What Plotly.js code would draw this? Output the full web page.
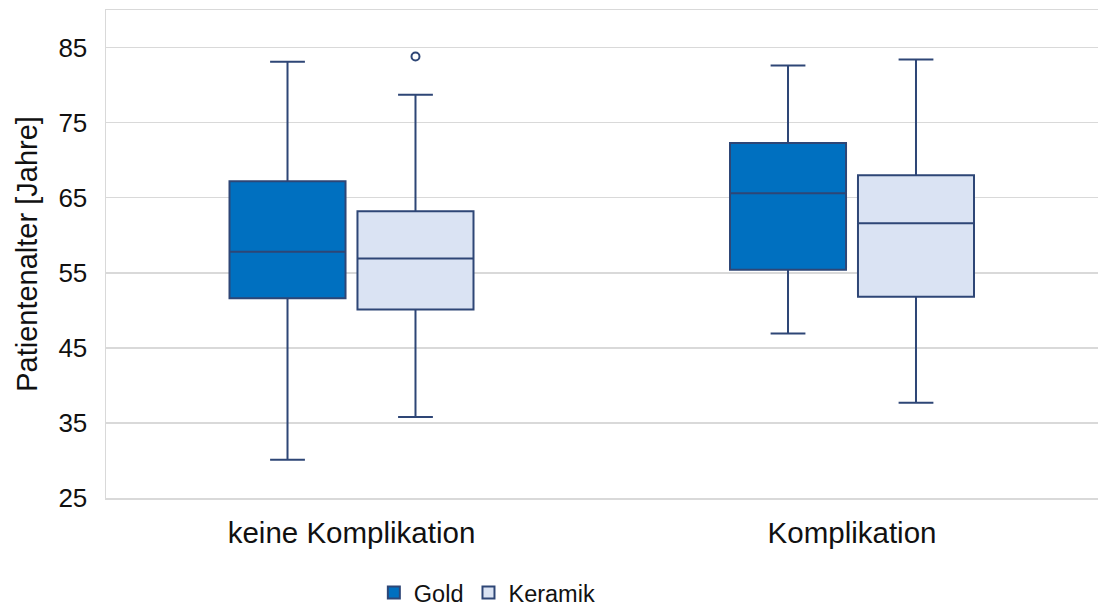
<!DOCTYPE html>
<html>
<head>
<meta charset="utf-8">
<script src="https://cdn.plot.ly/plotly-3.0.1.min.js"></script>
<style>
  html, body { margin: 0; padding: 0; background: #fff; }
  #chart { width: 1098px; height: 606px; }
</style>
</head>
<body>
<div id="chart"></div>
<script>
// Gruppen auf der x-Achse
const categories = ['keine Komplikation', 'Komplikation'];

// Goldlegierung: Kennwerte je Gruppe (Jahre)
const goldLower  = [30.1, 46.9];
const goldQ1     = [51.6, 55.4];
const goldMedian = [57.8, 65.6];
const goldQ3     = [67.2, 72.3];
const goldUpper  = [83.1, 82.6];

// Keramik: Kennwerte je Gruppe (Jahre)
const keramikLower    = [35.8, 37.7];
const keramikQ1       = [50.1, 51.8];
const keramikMedian   = [56.9, 61.6];
const keramikQ3       = [63.2, 68.0];
const keramikUpper    = [78.7, 83.4];
const keramikOutliers = [[83.8], []];

const yTicks = [25, 35, 45, 55, 65, 75, 85];

const lineColor = '#2E4676';
const textColor = '#111111';
const gridColor = '#d9d9d9';
const fontFamily = 'Liberation Sans, Arial, sans-serif';

const common = {
  type: 'box',
  x: categories,
  whiskerwidth: 0.3,
  line: { color: lineColor, width: 2 },
  hoverinfo: 'skip'
};

const traces = [
  Object.assign({}, common, {
    name: 'Gold',
    lowerfence: goldLower,
    q1: goldQ1,
    median: goldMedian,
    q3: goldQ3,
    upperfence: goldUpper,
    fillcolor: '#0070C0',
    boxpoints: false
  }),
  Object.assign({}, common, {
    name: 'Keramik',
    y: keramikOutliers,
    lowerfence: keramikLower,
    q1: keramikQ1,
    median: keramikMedian,
    q3: keramikQ3,
    upperfence: keramikUpper,
    fillcolor: '#DAE3F3',
    boxpoints: 'outliers',
    jitter: 0,
    pointpos: 0,
    marker: {
      symbol: 'circle-open',
      size: 8,
      color: lineColor,
      line: { width: 2 }
    }
  })
];

const layout = {
  width: 1098,
  height: 606,
  margin: { l: 106, r: 0, t: 10, b: 108, autoexpand: false },
  paper_bgcolor: '#ffffff',
  plot_bgcolor: '#ffffff',
  font: { family: fontFamily, color: textColor },
  boxmode: 'group',
  boxgap: 0.4886,
  boxgroupgap: 0.0934,
  showlegend: true,
  legend: {
    orientation: 'h',
    x: 0.270,
    xanchor: 'left',
    y: -0.194,
    yanchor: 'middle',
    font: { size: 23.5, family: fontFamily, color: textColor },
    bgcolor: 'rgba(0,0,0,0)'
  },
  xaxis: {
    type: 'category',
    range: [-0.4905, 1.4915],
    showgrid: false,
    zeroline: false,
    showline: true,
    mirror: true,
    linecolor: gridColor,
    linewidth: 1.5,
    ticks: '',
    tickfont: { size: 29.5, family: fontFamily, color: textColor },
    ticklabelstandoff: 8,
    fixedrange: true
  },
  yaxis: {
    range: [25, 90],
    tickvals: yTicks,
    ticktext: yTicks.map(String),
    showgrid: true,
    gridcolor: gridColor,
    gridwidth: 1.5,
    zeroline: false,
    showline: true,
    linecolor: gridColor,
    linewidth: 1.5,
    ticks: '',
    tickfont: { size: 26, family: fontFamily, color: textColor },
    ticklabelstandoff: 12,
    title: {
      text: 'Patientenalter [Jahre]',
      font: { size: 29, family: fontFamily, color: textColor },
      standoff: 12
    },
    fixedrange: true
  }
};

Plotly.newPlot('chart', traces, layout, { displayModeBar: false, staticPlot: true });
</script>
</body>
</html>
